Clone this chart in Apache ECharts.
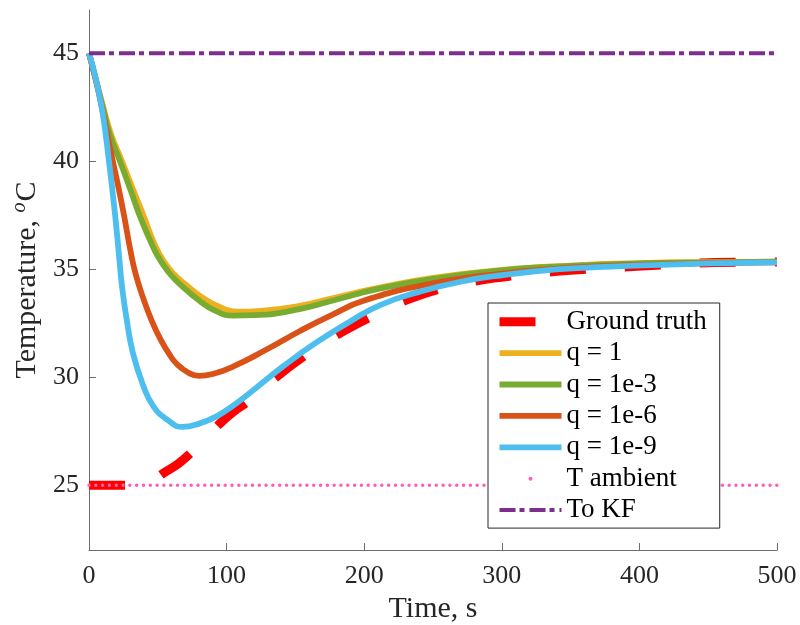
<!DOCTYPE html>
<html>
<head>
<meta charset="utf-8">
<script src="https://cdn.jsdelivr.net/npm/echarts@6/dist/echarts.min.js"></script>
<style>html,body{margin:0;padding:0;background:#fff;}#c{width:800px;height:625px;}</style>
</head>
<body>
<div id="c"></div>
<script>
// ---- data ----
const xTicks = [0, 100, 200, 300, 400, 500];
const yTicks = [25, 30, 35, 40, 45];

const tGT  = [0, 20, 38, 46, 54, 65, 75, 85, 95, 105, 116, 136, 158, 180, 205, 232, 259, 285, 312, 340, 366, 395, 422, 450, 480, 500];
const vGT  = [25, 25, 25.0, 25.2, 25.55, 26.0, 26.55, 27.2, 27.85, 28.4, 28.9, 30.0, 31.05, 31.95, 32.8, 33.6, 34.15, 34.5, 34.72, 34.9, 35.02, 35.12, 35.22, 35.3, 35.32, 35.33];

const tQ1  = [0, 5, 10, 16, 24, 31, 39.5, 48, 55, 62, 70, 82, 95, 108, 125, 153, 180, 211, 250, 300, 350, 400, 450, 500];
const vQ1  = [45, 43.8, 42.6, 41.25, 40.0, 38.85, 37.5, 36.1, 35.3, 34.75, 34.3, 33.7, 33.25, 33.03, 33.07, 33.3, 33.7, 34.15, 34.6, 34.97, 35.17, 35.28, 35.33, 35.35];

const tQ3  = [0, 5, 10, 15, 22.5, 30, 37, 44, 50, 58, 67, 80, 92, 105, 120, 153, 180, 211, 250, 300, 350, 400, 450, 500];
const vQ3  = [45, 43.75, 42.5, 41.25, 40.0, 38.7, 37.45, 36.4, 35.6, 34.85, 34.25, 33.55, 33.07, 32.85, 32.87, 33.15, 33.6, 34.1, 34.55, 34.95, 35.15, 35.27, 35.32, 35.35];

const tQ6  = [0, 5, 10, 14, 18, 22, 26, 30, 34, 40, 46, 52, 58, 64, 72, 80, 90, 105, 129, 153, 177, 200, 250, 300, 350, 400, 450, 500];
const vQ6  = [45, 43.75, 42.3, 41.0, 39.8, 38.6, 37.3, 35.9, 34.75, 33.55, 32.55, 31.75, 31.1, 30.6, 30.22, 30.06, 30.15, 30.5, 31.28, 32.13, 32.9, 33.55, 34.35, 34.8, 35.07, 35.2, 35.28, 35.32];

const tQ9  = [0, 5, 10, 14.5, 19, 22, 24, 27.4, 32, 39.5, 46.7, 56.5, 68, 80, 93, 105, 117, 141, 165, 190, 212, 240, 270, 300, 342, 380, 415, 450, 488, 500];
const vQ9  = [45, 43.8, 42.2, 40.0, 37.5, 35.5, 34.2, 32.67, 31.1, 29.6, 28.66, 28.05, 27.7, 27.85, 28.2, 28.7, 29.28, 30.5, 31.6, 32.59, 33.35, 33.95, 34.42, 34.72, 35.0, 35.12, 35.2, 35.27, 35.31, 35.32];

const tAmb = [0, 500];
const vAmb = [25, 25];
const tKF  = [0, 500];
const vKF  = [45, 45];

const names = ['Ground truth', 'q = 1', 'q = 1e-3', 'q = 1e-6', 'q = 1e-9', 'T ambient', 'To KF'];

const pairs = (t, v) => t.map((x, i) => [x, v[i]]);

const FONT = 'Liberation Serif';
const TXT = '#262626';
const AX = '#6e6e6e';

const chart = echarts.init(document.getElementById('c'), null, {renderer: 'canvas'});

function lineSeries(name, data, color, width, type, extra) {
  return Object.assign({
    name: name,
    type: 'line',
    data: data,
    showSymbol: false,
    symbol: 'none',
    smooth: 0.5,
    animation: false,
    lineStyle: {color: color, width: width, type: type, cap: 'butt', join: 'round'},
    itemStyle: {color: color, opacity: 0},
    emphasis: {disabled: true}
  }, extra || {});
}

chart.setOption({
  animation: false,
  backgroundColor: '#ffffff',
  grid: {left: 89, right: 23, top: 10, bottom: 75, containLabel: false, outerBoundsMode: 'none'},
  xAxis: {
    type: 'value', min: 0, max: 500, interval: 100,
    name: 'Time, s', nameLocation: 'middle', nameGap: 40,
    nameTextStyle: {fontFamily: FONT, fontSize: 30, color: TXT},
    axisLine: {show: true, onZero: false, lineStyle: {color: AX, width: 1}},
    axisTick: {show: true, inside: true, length: 7, lineStyle: {color: AX}},
    axisLabel: {fontFamily: FONT, fontSize: 26, color: TXT, margin: 13},
    splitLine: {show: false}
  },
  yAxis: {
    type: 'value', min: 22, max: 47,
    name: '{a|Temperature, }{s|o}{a|C}', nameLocation: 'middle', nameGap: 44, nameRotate: 90,
    nameTextStyle: {
      fontFamily: FONT, fontSize: 30, color: TXT,
      rich: {
        a: {fontFamily: FONT, fontSize: 30, color: TXT},
        s: {fontFamily: FONT, fontSize: 20, fontStyle: 'italic', color: TXT, padding: [0, 1, 14, 0]}
      }
    },
    axisLine: {show: true, onZero: false, lineStyle: {color: AX, width: 1}},
    axisTick: {show: true, inside: true, length: 7, lineStyle: {color: AX}, customValues: yTicks},
    axisLabel: {fontFamily: FONT, fontSize: 26, color: TXT, margin: 10, customValues: yTicks},
    splitLine: {show: false}
  },
  legend: {
    left: 488, top: 303, orient: 'vertical',
    backgroundColor: '#ffffff', borderColor: '#262626', borderWidth: 1, borderRadius: 0,
    padding: [5.2, 13, 4.5, 7],
    itemWidth: 62, itemHeight: 4, itemGap: 4.4,
    lineStyle: {width: 'inherit'},
    textStyle: {fontFamily: FONT, fontSize: 27, color: '#000'},
    selectedMode: false,
    data: [
      {name: names[0]}, {name: names[1]}, {name: names[2]}, {name: names[3]}, {name: names[4]},
      {name: names[5], icon: 'circle', itemStyle: {color: '#ff5fb0', opacity: 1}},
      {name: names[6]}
    ]
  },
  series: [
    lineSeries(names[0], pairs(tGT, vGT), '#ff0000', 9, [36, 39], {smooth: 0.4}),
    lineSeries(names[1], pairs(tQ1, vQ1), '#EDB120', 5.8, 'solid'),
    lineSeries(names[2], pairs(tQ3, vQ3), '#77AC30', 5.8, 'solid'),
    lineSeries(names[3], pairs(tQ6, vQ6), '#D95319', 5.8, 'solid'),
    lineSeries(names[4], pairs(tQ9, vQ9), '#4DBEEE', 5.8, 'solid'),
    lineSeries(names[5], pairs(tAmb, vAmb), '#ff5fb0', 3.5, [0.01, 6.8], {smooth: false, lineStyle: {color: '#ff5fb0', width: 3.5, type: [0.01, 6.8], cap: 'round'}, itemStyle: {color: '#ff5fb0', opacity: 1}}),
    lineSeries(names[6], pairs(tKF, vKF), '#7E2F8E', 4, [16, 4, 5, 5], {smooth: false})
  ]
});
</script>
</body>
</html>
